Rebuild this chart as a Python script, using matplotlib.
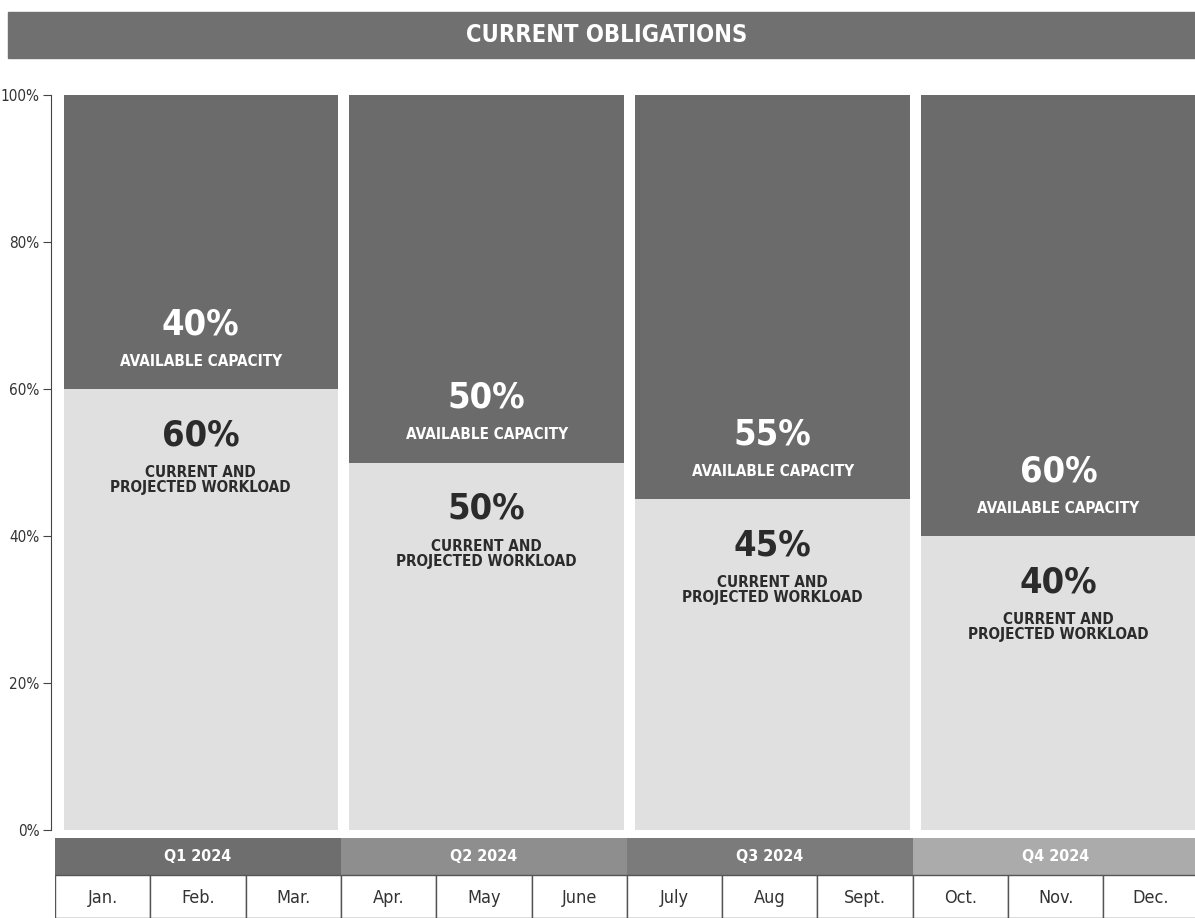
import matplotlib
matplotlib.use('Agg')
import matplotlib.pyplot as plt
from matplotlib.patches import Rectangle

plt.rcParams['font.family'] = ['DejaVu Sans']
plt.rcParams['font.stretch'] = 'condensed'

quarters = ['Q1 2024', 'Q2 2024', 'Q3 2024', 'Q4 2024']
months = ['Jan.', 'Feb.', 'Mar.', 'Apr.', 'May', 'June',
          'July', 'Aug', 'Sept.', 'Oct.', 'Nov.', 'Dec.']
workload = [60, 50, 45, 40]
available = [40, 50, 55, 60]
yticks = [0, 20, 40, 60, 80, 100]

dark = '#6b6b6b'
light = '#e0e0e0'
quarter_colors = ['#6e6e6e', '#8e8e8e', '#7b7b7b', '#ababab']

W, H = 1195, 918
fig = plt.figure(figsize=(W / 100, H / 100), dpi=100)

# title banner
fig.patches.append(Rectangle((8 / W, 1 - 58 / H), 1 - 8 / W, 46 / H,
                             transform=fig.transFigure, color='#707070'))
fig.text(0.508, 1 - 35 / H, 'CURRENT OBLIGATIONS', color='white',
         fontsize=17, fontweight='bold', ha='center', va='center')

xmax = (W - 55) / 95.3
ax = fig.add_axes([55 / W, 1 - 830 / H, 1 - 55 / W, 735 / H])
lefts = [3 * i + 0.09 for i in range(4)]
ax.bar(lefts, workload, width=2.88, align='edge', color=light)
ax.bar(lefts, available, bottom=workload, width=2.88, align='edge', color=dark)

for x, w, a in zip(lefts, workload, available):
    cx = x + 1.44
    ax.text(cx, w + 8.8, f'{a}%', color='white', fontsize=26,
            fontweight='bold', ha='center', va='center')
    ax.text(cx, w + 3.8, 'AVAILABLE CAPACITY', color='white', fontsize=11,
            fontweight='bold', ha='center', va='center')
    ax.text(cx, w - 6.3, f'{w}%', color='#2b2b2b', fontsize=26,
            fontweight='bold', ha='center', va='center')
    ax.text(cx, w - 12.4, 'CURRENT AND\nPROJECTED WORKLOAD', color='#2b2b2b',
            fontsize=11, fontweight='bold', ha='center', va='center',
            linespacing=1.0)

ax.set_xlim(0, xmax)
ax.set_ylim(0, 100)
ax.set_yticks(yticks)
ax.set_yticklabels([f'{t}%' for t in yticks])
ax.set_xticks([])
for s in ['top', 'right', 'bottom']:
    ax.spines[s].set_visible(False)
ax.spines['left'].set_position(('outward', 3))
ax.spines['left'].set_color('#444444')
ax.tick_params(axis='y', length=6, color='#444444', labelsize=11,
               labelcolor='#333333', pad=2)

# quarter / month header
hx = fig.add_axes([55 / W, 0, 1 - 55 / W, 80 / H])
hx.set_xlim(0, xmax)
hx.set_ylim(0, 80)
hx.axis('off')
for i, q in enumerate(quarters):
    hx.add_patch(Rectangle((3 * i, 43), 3, 37, color=quarter_colors[i], lw=0))
    hx.text(3 * i + 1.5, 61.5, q, color='white', fontsize=11.5,
            fontweight='bold', ha='center', va='center')
for j, m in enumerate(months):
    hx.add_patch(Rectangle((j, 0), 1, 43, facecolor='white',
                           edgecolor='#555555', lw=1.0))
    hx.text(j + 0.5, 20, m, color='#333333', fontsize=13,
            ha='center', va='center')

fig.savefig('out.png', dpi=100)
